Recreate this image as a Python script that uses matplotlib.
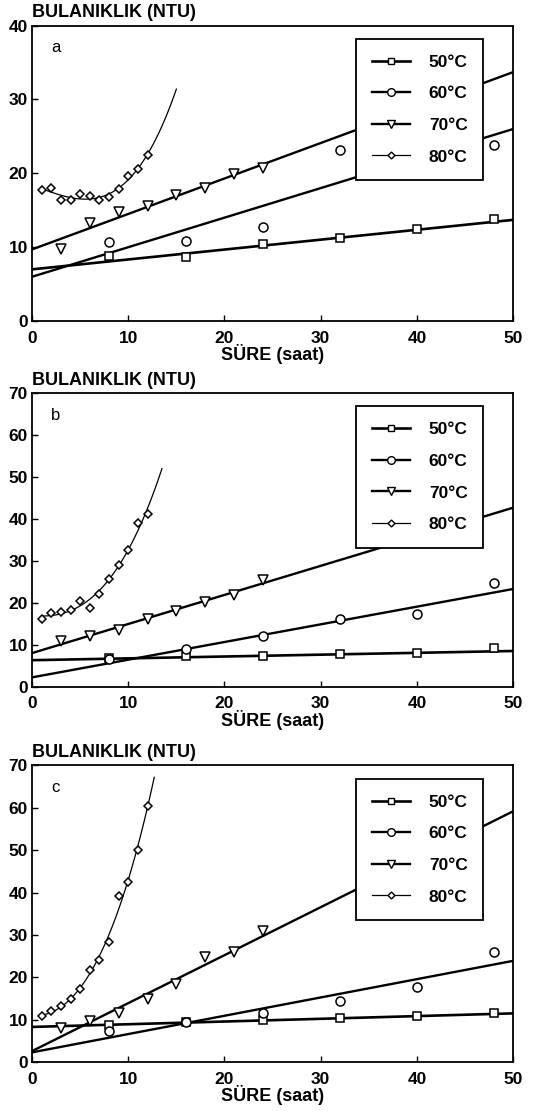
import matplotlib
matplotlib.use('Agg')
import matplotlib.pyplot as plt
import numpy as np
from matplotlib.lines import Line2D

plt.rcParams['font.family'] = ['Liberation Sans', 'DejaVu Sans']

# time points (saat)
t_50 = [8, 16, 24, 32, 40, 48]
t_60a = [8, 16, 24, 32, 48]
t_60 = [8, 16, 24, 32, 40, 48]
t_70 = [3, 6, 9, 12, 15, 18, 21, 24]
t_80 = [1, 2, 3, 4, 5, 6, 7, 8, 9, 10, 11, 12]

# panel a
a_50 = [8.8, 8.7, 10.5, 11.3, 12.5, 13.8]
a_60 = [10.7, 10.9, 12.7, 23.2, 23.9]
a_70 = [9.7, 13.3, 14.7, 15.6, 17.0, 18.0, 19.9, 20.7]
a_80 = [17.8, 18.0, 16.4, 16.4, 17.2, 16.9, 16.4, 16.8, 17.9, 19.6, 20.6, 22.5]

# panel b
b_50 = [6.8, 7.2, 7.2, 7.7, 8.0, 9.2]
b_60 = [6.5, 8.9, 12.0, 16.1, 17.3, 24.7]
b_70 = [11.0, 12.0, 13.4, 16.1, 18.0, 20.2, 21.9, 25.4]
b_80 = [16.1, 17.6, 17.8, 18.4, 20.5, 18.8, 22.2, 25.7, 29.1, 32.7, 39.0, 41.3]

# panel c
c_50 = [8.7, 9.5, 9.9, 10.5, 11.0, 11.7]
c_60 = [7.3, 9.5, 11.7, 14.4, 17.8, 26.1]
c_70 = [8.1, 9.7, 11.7, 14.8, 18.4, 24.7, 26.0, 31.0]
c_80 = [10.8, 12.1, 13.2, 14.8, 17.3, 21.7, 24.1, 28.4, 39.1, 42.6, 50.1, 60.5]

# fitted straight lines: value at t=0 and t=50
lines_a = {'50': (7.0, 13.7), '60': (6.0, 26.0), '70': (9.7, 33.7)}
lines_b = {'50': (6.3, 8.5), '60': (2.2, 23.3), '70': (8.0, 42.7)}
lines_c = {'50': (8.3, 11.5), '60': (2.3, 23.9), '70': (2.6, 59.2)}

# end of the 80 C curve and y limits
curve_end = [15.0, 13.5, 12.7]
ymax = [40, 70, 70]
panel_names = ['a', 'b', 'c']

markers = {'50': 's', '60': 'o', '70': 'v', '80': 'D'}
msize = {'50': 5.5, '60': 6.5, '70': 6.5, '80': 4.5}
lwidth = {'50': 1.9, '60': 1.7, '70': 1.7, '80': 0.9}


def draw_panel(ax, data, lines, x_end, top, name):
    for key in ['50', '60', '70']:
        t, y = data[key]
        ax.plot(t, y, linestyle='none', marker=markers[key], ms=msize[key],
                mfc='white', mec='black', mew=1.1, zorder=3)
        y0, y1 = lines[key]
        ax.plot([0, 50], [y0, y1], color='black', lw=lwidth[key], zorder=2)

    t, y = data['80']
    ax.plot(t, y, linestyle='none', marker='D', ms=msize['80'],
            mfc='white', mec='black', mew=1.1, zorder=3)
    coef = np.polyfit(t, y, 3)
    xs = np.linspace(1, x_end, 100)
    ax.plot(xs, np.polyval(coef, xs), color='black', lw=lwidth['80'], zorder=2)

    ax.set_xlim(0, 50)
    ax.set_ylim(0, top)
    ax.set_xticks(np.arange(0, 51, 10))
    ax.set_yticks(np.arange(0, top + 1, 10))
    ax.tick_params(direction='in', length=4, width=1, labelsize=12.5)
    ax.tick_params(axis='x', pad=7)
    ax.tick_params(axis='y', pad=3)
    for lab in ax.get_xticklabels() + ax.get_yticklabels():
        lab.set_fontweight('bold')
    for s in ax.spines.values():
        s.set_linewidth(1.3)

    ax.set_xlabel('SÜRE (saat)', fontsize=13, fontweight='bold', labelpad=-1)
    ax.text(0.0, 1.015, 'BULANIKLIK (NTU)', transform=ax.transAxes,
            fontsize=13, fontweight='bold', ha='left', va='bottom')
    ax.text(0.04, 0.925, name, transform=ax.transAxes, fontsize=12,
            ha='left', va='center')

    handles = []
    for key in ['50', '60', '70', '80']:
        handles.append(Line2D([], [], color='black', lw=lwidth[key],
                              marker=markers[key], ms=msize[key] - 1,
                              mfc='white', mec='black'))
    labels = ['50°C', '60°C', '70°C', '80°C']
    leg = ax.legend(handles, labels, loc='upper right',
                    bbox_to_anchor=(0.938, 0.955), frameon=True,
                    fancybox=False, edgecolor='black', framealpha=1,
                    borderpad=0.9, labelspacing=0.95, handlelength=2.2,
                    handletextpad=1.1, borderaxespad=0,
                    prop={'weight': 'bold', 'size': 12.5})
    leg.get_frame().set_linewidth(1.3)


fig = plt.figure(figsize=(5.34, 11.11), dpi=100)
positions = [[0.060, 0.711, 0.901, 0.266],
             [0.060, 0.382, 0.901, 0.264],
             [0.060, 0.044, 0.901, 0.267]]

all_data = [
    {'50': (t_50, a_50), '60': (t_60a, a_60), '70': (t_70, a_70), '80': (t_80, a_80)},
    {'50': (t_50, b_50), '60': (t_60, b_60), '70': (t_70, b_70), '80': (t_80, b_80)},
    {'50': (t_50, c_50), '60': (t_60, c_60), '70': (t_70, c_70), '80': (t_80, c_80)},
]
all_lines = [lines_a, lines_b, lines_c]

for i in range(3):
    ax = fig.add_axes(positions[i])
    draw_panel(ax, all_data[i], all_lines[i], curve_end[i], ymax[i], panel_names[i])

fig.savefig('out.png', dpi=100)
